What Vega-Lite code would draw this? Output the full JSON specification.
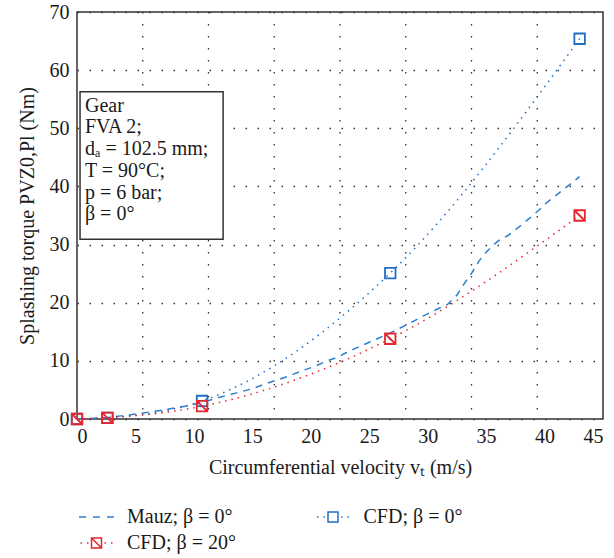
{
  "$schema": "https://vega.github.io/schema/vega-lite/v6.json",
  "width": 526,
  "height": 407,
  "autosize": {"type": "none"},
  "padding": {"left": 77, "top": 12, "right": 11, "bottom": 139},
  "background": "white",
  "config": {
    "font": "Liberation Serif",
    "view": {"stroke": "#333333", "strokeWidth": 1.5},
    "axis": {
      "labelFont": "Liberation Serif",
      "titleFont": "Liberation Serif",
      "labelFontSize": 20,
      "titleFontSize": 20,
      "titleFontWeight": "normal",
      "labelColor": "#1a1a1a",
      "titleColor": "#1a1a1a",
      "domain": false,
      "ticks": false
    },
    "legend": {
      "orient": "none",
      "direction": "horizontal",
      "legendX": 8.5,
      "legendY": 494,
      "columns": 2,
      "columnPadding": 77.5,
      "rowPadding": 5,
      "padding": 0,
      "labelFont": "Liberation Serif",
      "labelFontSize": 20,
      "labelColor": "#1a1a1a",
      "labelOffset": 19.5,
      "symbolSize": 400,
      "symbolStrokeWidth": 1.5
    }
  },
  "datasets": {
    "curves": [
      {"series": "Mauz; β = 0°", "v": 0, "t": 0},
      {"series": "Mauz; β = 0°", "v": 2.6, "t": 0.25},
      {"series": "Mauz; β = 0°", "v": 5, "t": 0.85},
      {"series": "Mauz; β = 0°", "v": 6.8, "t": 1.38},
      {"series": "Mauz; β = 0°", "v": 8.2, "t": 1.84},
      {"series": "Mauz; β = 0°", "v": 9.4, "t": 2.24},
      {"series": "Mauz; β = 0°", "v": 10.7, "t": 2.85},
      {"series": "Mauz; β = 0°", "v": 11.7, "t": 3.44},
      {"series": "Mauz; β = 0°", "v": 13.8, "t": 4.58},
      {"series": "Mauz; β = 0°", "v": 15.0, "t": 5.2},
      {"series": "Mauz; β = 0°", "v": 15.9, "t": 5.9},
      {"series": "Mauz; β = 0°", "v": 17.1, "t": 6.7},
      {"series": "Mauz; β = 0°", "v": 18.2, "t": 7.45},
      {"series": "Mauz; β = 0°", "v": 19.2, "t": 8.26},
      {"series": "Mauz; β = 0°", "v": 20.4, "t": 9.1},
      {"series": "Mauz; β = 0°", "v": 21.4, "t": 10.0},
      {"series": "Mauz; β = 0°", "v": 22.4, "t": 10.7},
      {"series": "Mauz; β = 0°", "v": 23.2, "t": 11.6},
      {"series": "Mauz; β = 0°", "v": 25.0, "t": 13.2},
      {"series": "Mauz; β = 0°", "v": 26.8, "t": 14.8},
      {"series": "Mauz; β = 0°", "v": 28.5, "t": 16.5},
      {"series": "Mauz; β = 0°", "v": 29.6, "t": 17.7},
      {"series": "Mauz; β = 0°", "v": 30.5, "t": 18.6},
      {"series": "Mauz; β = 0°", "v": 31.7, "t": 19.7},
      {"series": "Mauz; β = 0°", "v": 32.5, "t": 21.3},
      {"series": "Mauz; β = 0°", "v": 33.1, "t": 23.2},
      {"series": "Mauz; β = 0°", "v": 33.8, "t": 25.2},
      {"series": "Mauz; β = 0°", "v": 34.4, "t": 27.2},
      {"series": "Mauz; β = 0°", "v": 35.1, "t": 28.9},
      {"series": "Mauz; β = 0°", "v": 36.0, "t": 30.6},
      {"series": "Mauz; β = 0°", "v": 36.9, "t": 31.6},
      {"series": "Mauz; β = 0°", "v": 37.8, "t": 33.0},
      {"series": "Mauz; β = 0°", "v": 38.7, "t": 34.5},
      {"series": "Mauz; β = 0°", "v": 39.5, "t": 35.9},
      {"series": "Mauz; β = 0°", "v": 40.3, "t": 37.4},
      {"series": "Mauz; β = 0°", "v": 41.2, "t": 38.8},
      {"series": "Mauz; β = 0°", "v": 42.2, "t": 40.4},
      {"series": "Mauz; β = 0°", "v": 43.0, "t": 41.7},
      {"series": "CFD; β = 0°", "v": 0, "t": 0},
      {"series": "CFD; β = 0°", "v": 2.6, "t": 0.2},
      {"series": "CFD; β = 0°", "v": 10.7, "t": 3.1},
      {"series": "CFD; β = 0°", "v": 26.8, "t": 25.1},
      {"series": "CFD; β = 0°", "v": 43.0, "t": 65.4},
      {"series": "CFD; β = 20°", "v": 0, "t": 0},
      {"series": "CFD; β = 20°", "v": 2.6, "t": 0.2},
      {"series": "CFD; β = 20°", "v": 10.7, "t": 2.2},
      {"series": "CFD; β = 20°", "v": 26.8, "t": 13.8},
      {"series": "CFD; β = 20°", "v": 43.0, "t": 35.0}
    ],
    "gridX": [
      {"gx": 5.625}, {"gx": 11.25}, {"gx": 16.875}, {"gx": 22.5},
      {"gx": 28.125}, {"gx": 33.75}, {"gx": 39.375}
    ],
    "note": [
      {
        "x0": 0.26, "x1": 12.5, "y0": 30.9, "y1": 56.3,
        "tx": 0.68, "ty": 52.85,
        "label": "Gear\nFVA 2;\ndₐ = 102.5 mm;\nT = 90°C;\np = 6 bar;\nβ = 0°"
      }
    ]
  },
  "layer": [
    {
      "data": {"name": "gridX"},
      "mark": {"type": "rule", "color": "#333333", "strokeWidth": 1.3, "strokeDash": [1.5, 10.5]},
      "encoding": {
        "x": {
          "field": "gx", "type": "quantitative",
          "scale": {"domain": [0, 45], "nice": false, "zero": false},
          "axis": {
            "values": [0, 5, 10, 15, 20, 25, 30, 35, 40, 45],
            "grid": false,
            "labelPadding": 7,
            "titlePadding": 11,
            "title": "Circumferential velocity vₜ (m/s)"
          }
        }
      }
    },
    {
      "data": {"name": "curves"},
      "transform": [{"filter": "datum.series === 'Mauz; β = 0°'"}],
      "mark": {"type": "line", "strokeWidth": 1.5, "strokeDash": [7, 6], "interpolate": "linear"},
      "encoding": {
        "x": {
          "field": "v", "type": "quantitative",
          "scale": {"domain": [0, 45], "nice": false, "zero": false},
          "axis": {
            "values": [0, 5, 10, 15, 20, 25, 30, 35, 40, 45],
            "grid": false,
            "labelPadding": 7,
            "titlePadding": 11,
            "title": "Circumferential velocity vₜ (m/s)"
          }
        },
        "y": {
          "field": "t", "type": "quantitative",
          "scale": {"domain": [0, 70], "nice": false},
          "axis": {
            "values": [0, 10, 20, 30, 40, 50, 60, 70],
            "grid": true,
            "gridColor": "#333333",
            "gridWidth": 1.3,
            "gridDash": [1.5, 10.5],
            "labelPadding": 8,
            "titlePadding": 12,
            "title": "Splashing torque PVZ0,Pl (Nm)"
          }
        },
        "color": {
          "field": "series", "type": "nominal",
          "scale": {
            "domain": ["Mauz; β = 0°", "CFD; β = 0°", "CFD; β = 20°"],
            "range": ["#2f80cc", "#1f6fc2", "#e5262f"]
          }
        }
      }
    },
    {
      "data": {"name": "note"},
      "mark": {"type": "rect", "fill": "white", "stroke": "#333333", "strokeWidth": 1.5},
      "encoding": {
        "x": {"field": "x0", "type": "quantitative", "scale": {"domain": [0, 45], "nice": false, "zero": false}},
        "x2": {"field": "x1"},
        "y": {"field": "y0", "type": "quantitative", "scale": {"domain": [0, 70], "nice": false}},
        "y2": {"field": "y1"}
      }
    },
    {
      "data": {"name": "note"},
      "mark": {
        "type": "text", "align": "left", "baseline": "alphabetic",
        "font": "Liberation Serif", "fontSize": 20, "color": "#1a1a1a",
        "lineBreak": "\n", "lineHeight": 21.7
      },
      "encoding": {
        "x": {"field": "tx", "type": "quantitative", "scale": {"domain": [0, 45], "nice": false, "zero": false}},
        "y": {"field": "ty", "type": "quantitative", "scale": {"domain": [0, 70], "nice": false}},
        "text": {"field": "label"}
      }
    },
    {
      "data": {"name": "curves"},
      "transform": [{"filter": "datum.series !== 'Mauz; β = 0°'"}],
      "mark": {"type": "line", "strokeWidth": 1.5, "strokeDash": [1.5, 5], "interpolate": "monotone"},
      "encoding": {
        "x": {"field": "v", "type": "quantitative", "scale": {"domain": [0, 45], "nice": false, "zero": false}},
        "y": {"field": "t", "type": "quantitative", "scale": {"domain": [0, 70], "nice": false}},
        "color": {
          "field": "series", "type": "nominal",
          "scale": {
            "domain": ["Mauz; β = 0°", "CFD; β = 0°", "CFD; β = 20°"],
            "range": ["#2f80cc", "#1f6fc2", "#e5262f"]
          }
        }
      }
    },
    {
      "data": {"name": "curves"},
      "transform": [{"filter": "datum.series === 'CFD; β = 0°'"}],
      "mark": {"type": "point", "shape": "square", "filled": false, "stroke": "#1f6fc2", "strokeWidth": 1.8, "size": 110, "opacity": 1},
      "encoding": {
        "x": {"field": "v", "type": "quantitative", "scale": {"domain": [0, 45], "nice": false, "zero": false}},
        "y": {"field": "t", "type": "quantitative", "scale": {"domain": [0, 70], "nice": false}}
      }
    },
    {
      "data": {"name": "curves"},
      "transform": [{"filter": "datum.series === 'CFD; β = 20°'"}],
      "mark": {"type": "point", "shape": "M-1,-1H1V1H-1ZM-1,-1L1,1", "filled": false, "stroke": "#e5262f", "strokeWidth": 1.8, "size": 110, "opacity": 1},
      "encoding": {
        "x": {"field": "v", "type": "quantitative", "scale": {"domain": [0, 45], "nice": false, "zero": false}},
        "y": {"field": "t", "type": "quantitative", "scale": {"domain": [0, 70], "nice": false}}
      }
    },
    {
      "data": {"name": "curves"},
      "transform": [{"filter": "datum.v < 0"}],
      "mark": {"type": "point", "filled": false, "strokeWidth": 1.5, "opacity": 1},
      "encoding": {
        "x": {"field": "v", "type": "quantitative", "scale": {"domain": [0, 45], "nice": false, "zero": false}},
        "y": {"field": "t", "type": "quantitative", "scale": {"domain": [0, 70], "nice": false}},
        "color": {
          "field": "series", "type": "nominal",
          "scale": {
            "domain": ["Mauz; β = 0°", "CFD; β = 0°", "CFD; β = 20°"],
            "range": ["#2f80cc", "#1f6fc2", "#e5262f"]
          },
          "legend": {"title": null}
        },
        "shape": {
          "field": "series", "type": "nominal",
          "scale": {
            "domain": ["Mauz; β = 0°", "CFD; β = 0°", "CFD; β = 20°"],
            "range": [
              "M-1.75,0H-1.05M-0.35,0H0.35M1.05,0H1.75",
              "M-1.6,0H-1.45M-0.95,0H-0.8M-0.5,-0.5H0.5V0.5H-0.5ZM0.8,0H0.95M1.45,0H1.6",
              "M-1.6,0H-1.45M-0.95,0H-0.8M-0.5,-0.5H0.5V0.5H-0.5ZM-0.5,-0.5L0.5,0.5M0.8,0H0.95M1.45,0H1.6"
            ]
          },
          "legend": {"title": null}
        }
      }
    }
  ]
}
